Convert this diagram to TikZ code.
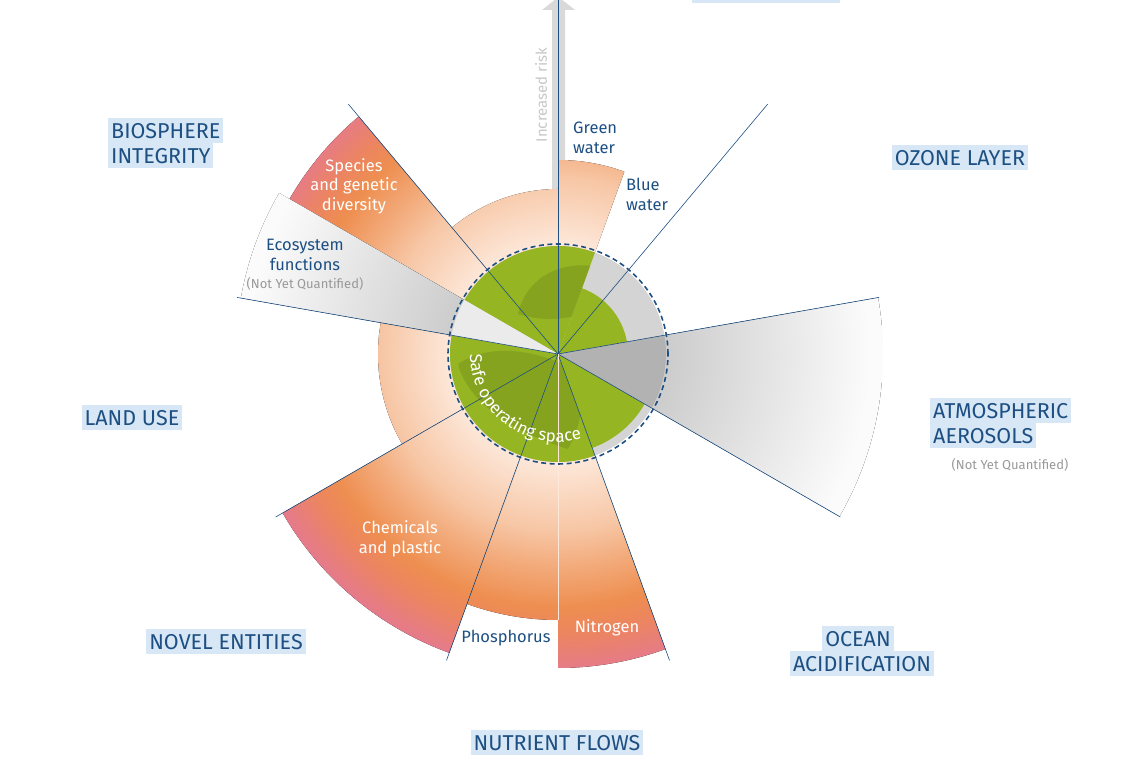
\documentclass[tikz,border=0pt]{standalone}
\usepackage{fontspec}
\setmainfont{Fira Sans}
\usetikzlibrary{decorations.text,arrows.meta}
\definecolor{navy}{HTML}{1D4F82}
\definecolor{lbox}{HTML}{D7E7F5}
\definecolor{gr}{HTML}{95B522}
\definecolor{grd}{HTML}{86A31F}
\definecolor{globe}{HTML}{D4D4D4}
\definecolor{o0}{HTML}{FDE8DA}
\definecolor{o1}{HTML}{F7C7A6}
\definecolor{o2}{HTML}{F3AE80}
\definecolor{o3}{HTML}{EE8E50}
\definecolor{o4}{HTML}{EC8560}
\definecolor{o5}{HTML}{E57A8C}
\definecolor{g0}{HTML}{CCCCCC}
\definecolor{g1}{HTML}{FBFBFB}
\pgfdeclareradialshading{orng}{\pgfpoint{0bp}{0bp}}{color(0bp)=(o0); color(8.3bp)=(o0); color(13.5bp)=(o1); color(16bp)=(o2); color(19.5bp)=(o3); color(21.5bp)=(o4); color(24.5bp)=(o5); color(50bp)=(o5)}
\pgfdeclareradialshading{gry}{\pgfpoint{0bp}{0bp}}{color(0bp)=(g0); color(8.3bp)=(g0); color(24bp)=(g1); color(50bp)=(g1)}
\newcommand\wdg[3]{(0,0) -- (#1:#3) arc[start angle=#1,end angle=#2,radius=#3] -- cycle}
\newcommand\shadewedge[4]{\begin{scope}\clip \wdg{#1}{#2}{#3};\fill[shading=#4] (-325pt,-325pt) rectangle (325pt,325pt);\end{scope}}
\newcommand\blobs{\fill[grd] (-100,-10) .. controls (-90,-50) and (-40,-80) .. (10,-95) .. controls (30,-60) and (25,-30) .. (5,-10) .. controls (-30,5) and (-70,10) .. cycle;
\fill[grd] (-40,40) .. controls (-30,85) and (20,100) .. (60,80) .. controls (50,45) and (10,25) .. cycle;}
\tikzset{
  bl/.style={fill=lbox,text=navy,font=\fontsize{21.5}{23}\selectfont,inner sep=3pt,minimum height=25pt},
  sub/.style={text=navy,font=\fontsize{16.5}{19.5}\selectfont,align=center,inner sep=0pt},
  wsub/.style={sub,text=white},
  nyq/.style={text=gray!80,font=\fontsize{13}{15}\selectfont,inner sep=0pt},
  axis/.style={draw=navy,line width=0.6pt}
}
\begin{document}
\begin{tikzpicture}[x=1pt,y=1pt]
\useasboundingbox (0,0) rectangle (1140,765);
\fill[lbox] (692,762) rectangle (840,765);
\fill[black!15] (552,560) rectangle (565,755) -- (575,755) -- (558.5,768) -- (542,755) -- (552,755);
\node[rotate=90,text=black!22,font=\fontsize{15}{17}\selectfont] (risk) at (541,670) {Increased risk};
\begin{scope}[shift={(558,411)}]
\coordinate (C) at (0,0);
\shadewedge{90}{130}{165pt}{orng}
\shadewedge{130}{150}{310pt}{orng}
\shadewedge{150}{170}{322pt}{gry}
\shadewedge{170}{210}{180pt}{orng}
\shadewedge{210}{250}{318pt}{orng}
\shadewedge{250}{270}{266pt}{orng}
\shadewedge{270}{290}{314pt}{orng}
\shadewedge{-30}{10}{325pt}{gry}
\shadewedge{70}{90}{194pt}{orng}
\fill[globe] (0,0) circle[radius=108pt];
\fill[gr] \wdg{70}{150}{108pt};
\fill[gr] \wdg{170}{290}{108pt};
\fill[gr] \wdg{290}{330}{100pt};
\fill[gr] \wdg{10}{70}{70pt};
\fill[black!8] \wdg{150}{170}{108pt};
\fill[black!30] \wdg{-30}{10}{108pt};
\begin{scope}\clip \wdg{70}{150}{100pt}; \blobs \end{scope}
\begin{scope}\clip \wdg{170}{290}{100pt}; \blobs \end{scope}
\foreach \a/\n in {50/l1,10/l2,-30/l3,-70/l4,-110/l5,-150/l6,170/l7,130/l8}{
  \coordinate (\n) at (\a:326pt);
  \draw[axis] (C) -- (\n);
}
\coordinate (ltop) at (90:383pt);
\draw[axis] (C) -- (ltop);
\coordinate (lbot) at (-90:266pt);
\draw[o0,line width=0.6pt] (C) -- (lbot);
\draw[navy,line width=1.6pt,dash pattern=on 5pt off 3.5pt] (0,0) circle[radius=110pt];
\path[decorate,decoration={text along path,text align=center,text color=white,
  text={|\fontsize{17}{19}\selectfont|Safe operating space}}] (172:88pt) arc[start angle=172,end angle=294,radius=88pt];
\end{scope}
\node[bl,anchor=west] (bio1) at (108,634) {BIOSPHERE};
\node[bl,anchor=west] (bio2) at (108,609) {INTEGRITY};
\node[bl] (ozone) at (960,607) {OZONE LAYER};
\node[bl,anchor=west] (aer1) at (930,354) {ATMOSPHERIC};
\node[bl,anchor=west] (aer2) at (930,329) {AEROSOLS};
\node[nyq] (aer3) at (1010,300) {(Not Yet Quantified)};
\node[bl] (land) at (132,347) {LAND USE};
\node[bl] (novel) at (226,123) {NOVEL ENTITIES};
\node[bl] (oc1) at (858,126) {OCEAN};
\node[bl] (oc2) at (862,101) {ACIDIFICATION};
\node[bl] (nut) at (557,22) {NUTRIENT FLOWS};
\node[sub,align=left,anchor=north west] (gw) at (573,643) {Green\\water};
\node[sub,align=left,anchor=north west] (bw) at (626,587) {Blue\\water};
\node[sub] (eco) at (305,510) {Ecosystem\\functions};
\node[nyq] (eco2) at (305,481) {(Not Yet Quantified)};
\node[wsub] (spec) at (354,579) {Species\\and genetic\\diversity};
\node[wsub] (chem) at (400,226) {Chemicals\\and plastic};
\node[sub] (phos) at (506,127) {Phosphorus};
\node[wsub] (nit) at (607,137) {Nitrogen};
\end{tikzpicture}
\end{document}
